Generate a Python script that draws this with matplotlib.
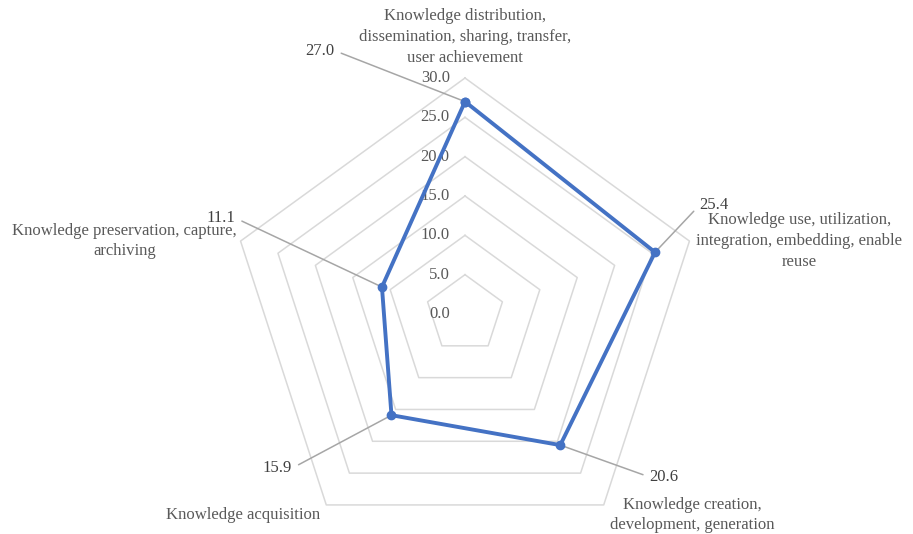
import numpy as np
import matplotlib
matplotlib.use("Agg")
import matplotlib.pyplot as plt

# --- DATOS ---
categories = [
    "Knowledge distribution,\ndissemination, sharing, transfer,\nuser achievement",
    "Knowledge use, utilization,\nintegration, embedding, enable\nreuse",
    "Knowledge creation,\ndevelopment, generation",
    "Knowledge acquisition",
    "Knowledge preservation, capture,\narchiving",
]
values = [27.0, 25.4, 20.6, 15.9, 11.1]
rings = [5, 10, 15, 20, 25, 30]
tick_values = [0, 5, 10, 15, 20, 25, 30]

TXT = "#595959"
GRID = "#D9D9D9"
BLUE = "#4472C4"
plt.rcParams['font.family'] = ['Liberation Serif', 'DejaVu Serif']

W, H = 913, 534
cx, cy, R = 465, 314, 236  # centro y radio en pixeles

fig = plt.figure(figsize=(W / 100, H / 100), dpi=100)
ax = fig.add_axes([(cx - R) / W, (H - cy - R) / H, 2 * R / W, 2 * R / H],
                  projection='polar')
ax.set_theta_offset(np.pi / 2)
ax.set_theta_direction(-1)
ax.set_ylim(0, 30)
ax.grid(False)
ax.spines['polar'].set_visible(False)
ax.set_xticks([])
ax.set_yticks([])
ax.patch.set_visible(False)

n = len(categories)
angles = np.linspace(0, 2 * np.pi, n, endpoint=False)
closed = np.concatenate([angles, angles[:1]])

# --- PENTAGONOS ---
for r in rings:
    ax.plot(closed, [r] * (n + 1), color=GRID, lw=1.1, clip_on=False, zorder=1)

# --- ETIQUETAS DEL EJE ---
for t in tick_values:
    ax.annotate(f"{t:.1f}", xy=(0, t), xytext=(-11, 0), textcoords='offset points',
                ha='right', va='center', fontsize=12, color=TXT, zorder=2)

# --- SERIE ---
vals = values + values[:1]
ax.plot(closed, vals, color=BLUE, lw=2.8, marker='o', markersize=6,
        clip_on=False, zorder=4)

# --- ETIQUETAS DE CATEGORIA ---
px = 0.72
cat_offsets = [(0, 12), (110, 0), (89, -10), (-83, -10), (-116, 0)]
cat_va = ['bottom', 'center', 'center', 'center', 'center']
for a, lab, (dx, dy), va in zip(angles, categories, cat_offsets, cat_va):
    ax.annotate(lab, xy=(a, 30), xytext=(dx * px, dy * px), textcoords='offset points',
                ha='center', va=va, fontsize=12, color=TXT, linespacing=1.4,
                annotation_clip=False)

# --- ETIQUETAS DE DATOS CON LINEAS ---
lab_offsets = [(-145, 51), (59, 47), (104, -32), (-114, -53), (-161, 69)]
for a, v, (dx, dy) in zip(angles, values, lab_offsets):
    rel = (1, 0.5) if dx < 0 else (0, 0.5)
    ax.annotate(f"{v:.1f}", xy=(a, v), xytext=(dx * px, dy * px),
                textcoords='offset points', ha='center', va='center',
                fontsize=12, color="#404040", annotation_clip=False,
                arrowprops=dict(arrowstyle='-', color='#A6A6A6', lw=1.1,
                                relpos=rel, shrinkA=3, shrinkB=0), zorder=3)

fig.savefig("out.png", dpi=100)
